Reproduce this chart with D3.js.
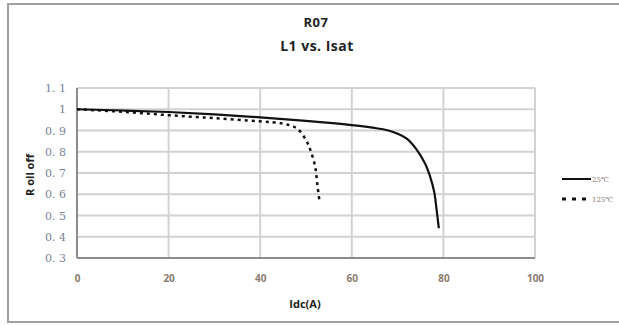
<!DOCTYPE html>
<html><head><meta charset="utf-8">
<script src="https://cdn.jsdelivr.net/npm/d3@7/dist/d3.min.js"></script>
<style>body{margin:0;background:#fff;} svg{display:block;}</style>
</head><body><svg id="c" width="619" height="326"></svg>
<script>
const xTicks = [0, 20, 40, 60, 80, 100];
const yTicks = [0.3, 0.4, 0.5, 0.6, 0.7, 0.8, 0.9, 1.0, 1.1];
const yTickLabels = ["0. 3", "0. 4", "0. 5", "0. 6", "0. 7", "0. 8", "0. 9", "1", "1. 1"];
const seriesNames = ["25℃", "125℃"];
const idc25 = [0, 10, 20, 30, 40, 50, 60, 65, 68, 70, 72, 74, 76, 77, 78, 78.5, 79];
const roll25 = [1.0, 0.994, 0.987, 0.976, 0.962, 0.945, 0.925, 0.912, 0.9, 0.885, 0.862, 0.815, 0.745, 0.69, 0.61, 0.53, 0.44];
const idc125 = [0, 10, 20, 30, 40, 45, 48, 50, 51, 52, 52.5, 53];
const roll125 = [1.0, 0.988, 0.972, 0.958, 0.943, 0.932, 0.91, 0.855, 0.805, 0.73, 0.64, 0.56];

const svg = d3.select("#c");
const m = {l: 77, r: 535, t: 88, b: 258};
const x = d3.scaleLinear().domain([0, 100]).range([m.l, m.r]);
const y = d3.scaleLinear().domain([0.3, 1.1]).range([m.b, m.t]);

// outer frame
svg.append("rect").attr("x", 8).attr("y", 4).attr("width", 620).attr("height", 318)
  .attr("fill", "#fff").attr("stroke", "#a0a0a0").attr("stroke-width", 2);

// grid
svg.append("g").selectAll("line").data(yTicks).join("line")
  .attr("x1", m.l).attr("x2", m.r).attr("y1", d => y(d)).attr("y2", d => y(d))
  .attr("stroke", "#d2d2d2").attr("stroke-width", 2);
svg.append("g").selectAll("line").data(xTicks).join("line")
  .attr("y1", m.t).attr("y2", m.b).attr("x1", d => x(d)).attr("x2", d => x(d))
  .attr("stroke", "#d2d2d2").attr("stroke-width", 2);

// axes lines
svg.append("line").attr("x1", m.l).attr("x2", m.l).attr("y1", m.t).attr("y2", m.b)
  .attr("stroke", "#8c8c8c").attr("stroke-width", 2);
svg.append("line").attr("x1", m.l).attr("x2", m.r).attr("y1", m.b).attr("y2", m.b)
  .attr("stroke", "#8c8c8c").attr("stroke-width", 2);

// tick labels
const yAxis = d3.axisLeft(y).tickValues(yTicks).tickSize(0).tickPadding(11)
  .tickFormat((d, i) => yTickLabels[i]);
const gy = svg.append("g").attr("transform", `translate(${m.l},0)`).call(yAxis);
gy.select(".domain").remove();
gy.selectAll("text").attr("fill", "#7a7f96").style("font-family", "'DejaVu Serif', serif").style("font-size", "11px");

const xAxis = d3.axisBottom(x).tickValues(xTicks).tickSize(0).tickPadding(17);
const gx = svg.append("g").attr("transform", `translate(0,${m.b})`).call(xAxis);
gx.select(".domain").remove();
gx.selectAll("text").attr("fill", "#8a7a70").style("font-family", "'Open Sans', sans-serif")
  .style("font-size", "10px").style("font-weight", "bold");

// titles
svg.append("text").attr("x", 316).attr("y", 27).attr("text-anchor", "middle")
  .style("font-family", "'Open Sans', sans-serif").style("font-weight", "bold").style("font-size", "13px")
  .style("letter-spacing", "0.5px").attr("fill", "#222").text("R07");
svg.append("text").attr("x", 317).attr("y", 51).attr("text-anchor", "middle")
  .style("font-family", "'Open Sans', sans-serif").style("font-weight", "bold").style("font-size", "14px")
  .style("letter-spacing", "0.5px").attr("fill", "#222").text("L1 vs. Isat");
svg.append("text").attr("x", 305).attr("y", 308).attr("text-anchor", "middle")
  .style("font-family", "'Open Sans', sans-serif").style("font-weight", "bold").style("font-size", "11px")
  .attr("fill", "#222").text("Idc(A)");
svg.append("text").attr("transform", "translate(34,175) rotate(-90)").attr("text-anchor", "middle")
  .style("font-family", "'Open Sans', sans-serif").style("font-weight", "bold").style("font-size", "11px")
  .attr("fill", "#222").text("R oll off");

// lines
const d25 = idc25.map((v, i) => [v, roll25[i]]);
const d125 = idc125.map((v, i) => [v, roll125[i]]);
const line = d3.line().x(d => x(d[0])).y(d => y(d[1])).curve(d3.curveCatmullRom);
svg.append("path").datum(d25).attr("d", line)
  .attr("fill", "none").attr("stroke", "#111").attr("stroke-width", 2.2);
svg.append("path").datum(d125).attr("d", line)
  .attr("fill", "none").attr("stroke", "#111").attr("stroke-width", 2.5).attr("stroke-dasharray", "3,4");

// legend
const lg = svg.append("g");
[0, 1].forEach(i => {
  const ly = 179 + i * 20;
  lg.append("line").attr("x1", 562).attr("x2", 591).attr("y1", ly).attr("y2", ly)
    .attr("stroke", "#111").attr("stroke-width", i ? 3 : 2)
    .attr("stroke-dasharray", i ? "4,6" : null);
  lg.append("text").attr("x", 592).attr("y", ly + 3).text(seriesNames[i])
    .style("font-family", "'DejaVu Serif', serif").style("font-size", "7px").attr("fill", "#8a7a70");
});
</script></body></html>
